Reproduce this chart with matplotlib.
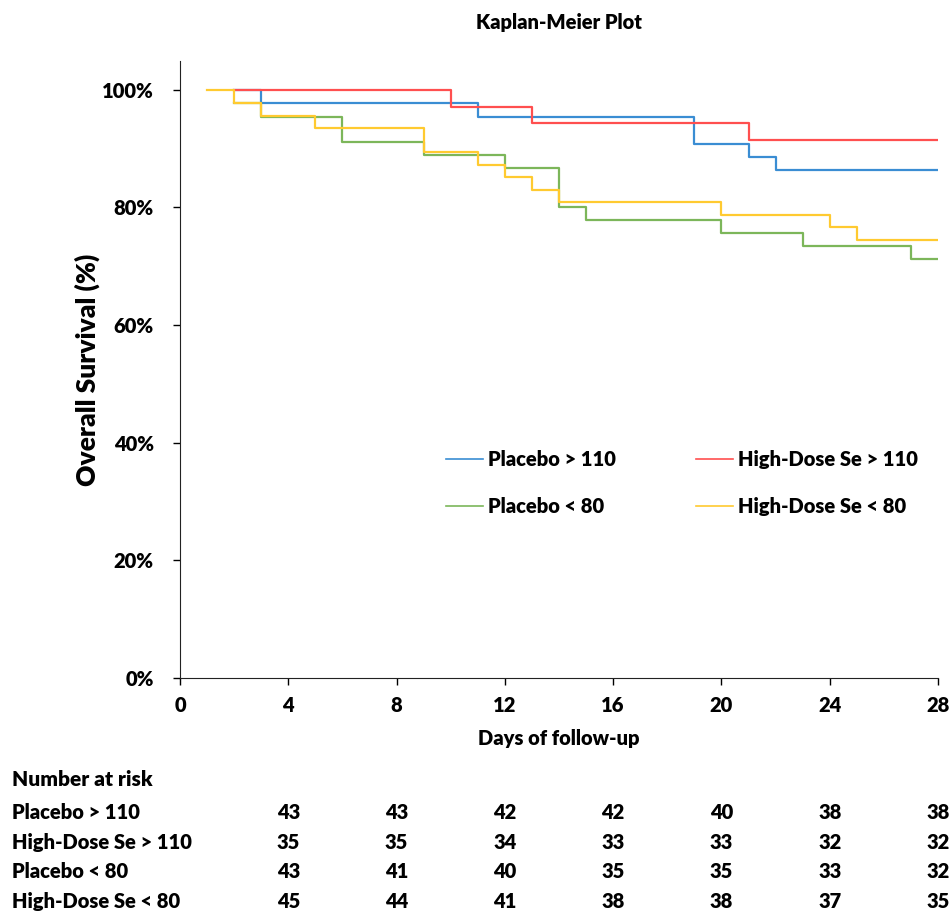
import matplotlib.pyplot as plt
from matplotlib.lines import Line2D

# Kaplan-Meier step data (day, survival %)
placebo_hi_days = [2, 3, 11, 19, 21, 22, 28]
placebo_hi_surv = [100, 97.7, 95.4, 90.8, 88.5, 86.3, 86.3]

highdose_hi_days = [2, 10, 13, 21, 28]
highdose_hi_surv = [100, 97.1, 94.3, 91.4, 91.4]

placebo_lo_days = [2, 3, 6, 9, 12, 14, 15, 20, 23, 27, 28]
placebo_lo_surv = [97.7, 95.4, 91.2, 89.0, 86.7, 80.0, 77.8, 75.6, 73.4, 71.3, 71.3]

highdose_lo_days = [1, 2, 3, 5, 9, 11, 12, 13, 14, 20, 24, 25, 28]
highdose_lo_surv = [100, 97.8, 95.6, 93.5, 89.5, 87.2, 85.1, 82.9, 80.9, 78.8, 76.6, 74.4, 74.4]

# Number at risk table
risk_days = [4, 8, 12, 16, 20, 24, 28]
risk_groups = ["Placebo > 110", "High-Dose Se > 110", "Placebo < 80", "High-Dose Se < 80"]
risk_placebo_hi = [43, 43, 42, 42, 40, 38, 38]
risk_highdose_hi = [35, 35, 34, 33, 33, 32, 32]
risk_placebo_lo = [43, 41, 40, 35, 35, 33, 32]
risk_highdose_lo = [45, 44, 41, 38, 38, 37, 35]

x_ticks = [0, 4, 8, 12, 16, 20, 24, 28]
y_ticks = [0, 20, 40, 60, 80, 100]

plt.rcParams["font.family"] = ["Lato", "DejaVu Sans"]
W = "heavy"
plt.rcParams["font.weight"] = W

blue = "#3A8DD3"
red = "#FF4F4F"
green = "#7CB65A"
yellow = "#FFCA30"

fig = plt.figure(figsize=(9.52, 9.13), dpi=100)
ax = fig.add_axes([180 / 952, 1 - 678 / 913, 758 / 952, 617 / 913])

lw = 1.6
ax.step(placebo_hi_days, placebo_hi_surv, where="post", color=blue, lw=lw)
ax.step(highdose_hi_days, highdose_hi_surv, where="post", color=red, lw=lw)
ax.step(placebo_lo_days, placebo_lo_surv, where="post", color=green, lw=lw)
ax.step(highdose_lo_days, highdose_lo_surv, where="post", color=yellow, lw=lw)

ax.set_xlim(0, 28)
ax.set_ylim(0, 104.9)
ax.set_xticks(x_ticks)
ax.set_yticks(y_ticks)
ax.set_yticklabels([f"{v}%" for v in y_ticks])
ax.tick_params(axis="both", direction="out", length=5, width=1, labelsize=14.5)
ax.tick_params(axis="y", pad=14)
ax.tick_params(axis="x", pad=8)
for lab in ax.get_xticklabels() + ax.get_yticklabels():
    lab.set_fontweight(W)
ax.spines["top"].set_visible(False)
ax.spines["right"].set_visible(False)
ax.spines["left"].set_color("#222222")
ax.spines["bottom"].set_color("#222222")

ax.set_title("Kaplan-Meier Plot", fontsize=14.5, fontweight=W, pad=23)
ax.set_xlabel("Days of follow-up", fontsize=14.5, fontweight=W, labelpad=10)
ax.set_ylabel("Overall Survival (%)", fontsize=19, fontweight=W, labelpad=1)

# legend (column-wise fill: two rows, two columns)
handles = [
    Line2D([], [], color=blue, lw=1.2),
    Line2D([], [], color=green, lw=1.2),
    Line2D([], [], color=red, lw=1.2),
    Line2D([], [], color=yellow, lw=1.2),
]
labels = ["Placebo > 110", "Placebo < 80", "High-Dose Se > 110", "High-Dose Se < 80"]
ax.legend(handles, labels, ncol=2, loc="upper left",
          bbox_to_anchor=((446 - 180) / 758, (678 - 450) / 617),
          frameon=False, borderpad=0, borderaxespad=0,
          handlelength=1.85, handletextpad=0.25, columnspacing=3.95,
          labelspacing=1.38, prop={"size": 14.5, "weight": W})

# number at risk table
fig.text(12 / 952, 1 - 780 / 913, "Number at risk", fontsize=15, fontweight=W, va="center")
row_y = [812, 842, 872, 901]
for name, vals, yp in zip(risk_groups,
                          [risk_placebo_hi, risk_highdose_hi, risk_placebo_lo, risk_highdose_lo],
                          row_y):
    fig.text(12 / 952, 1 - yp / 913, name, fontsize=14.5, fontweight=W, va="center")
    for d, v in zip(risk_days, vals):
        x_fig = fig.transFigure.inverted().transform(ax.transData.transform((d, 0)))[0]
        fig.text(x_fig, 1 - yp / 913, str(v), fontsize=14.5, fontweight=W,
                 ha="center", va="center")

fig.savefig("out.png", dpi=100, facecolor="white")
